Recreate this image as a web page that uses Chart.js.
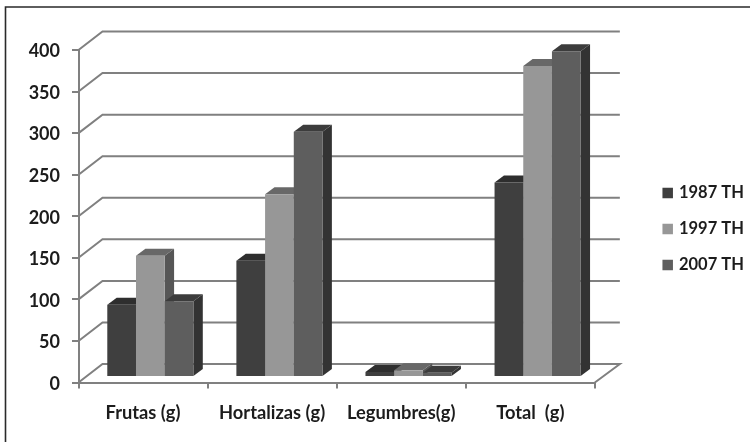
<!DOCTYPE html>
<html>
<head>
<meta charset="utf-8">
<script src="https://cdn.jsdelivr.net/npm/chart.js@4"></script>
<style>
  html, body { margin: 0; padding: 0; background: #fff; }
  #wrap { width: 750px; height: 442px; position: relative; overflow: hidden; }
  canvas { filter: blur(0.45px); }
</style>
</head>
<body>
<div id="wrap"><canvas id="chart" width="750" height="442"></canvas></div>
<script>
const categories = ['Frutas (g)', 'Hortalizas (g)', 'Legumbres(g)', 'Total  (g)']
const yTicks = [0, 50, 100, 150, 200, 250, 300, 350, 400]
const values1987 = [87, 140, 6, 234]
const values1997 = [146, 220, 8, 374]
const values2007 = [91, 295, 5, 392]

const axisGrey = '#808080'
const textColor = '#1c1c1c'
const wallDx = 24, wallDy = -18.5      //back wall offset
const barDx = 7.3, barDy = -5.5        //bars stand in the middle of the floor
const depthDx = 9.4, depthDy = -7      //depth of one bar

function drawBarFaces(ctx, ds, meta) {
  meta.data.forEach(bar => {
    const l = bar.x - bar.width / 2, r = bar.x + bar.width / 2
    ctx.fillStyle = ds.sideColor
    ctx.beginPath()
    ctx.moveTo(r, bar.y)
    ctx.lineTo(r + depthDx, bar.y + depthDy)
    ctx.lineTo(r + depthDx, bar.base + depthDy)
    ctx.lineTo(r, bar.base)
    ctx.fill()
    ctx.fillStyle = ds.topColor
    ctx.beginPath()
    ctx.moveTo(l, bar.y)
    ctx.lineTo(l + depthDx, bar.y + depthDy)
    ctx.lineTo(r + depthDx, bar.y + depthDy)
    ctx.lineTo(r, bar.y)
    ctx.fill()
  })
}

//-----------------3D look: walls behind, bar faces around the normal bars
const walls = {
  id: 'walls',
  afterLayout(chart) {
    //legend stands away from the plot
    const lg = chart.legend
    const w = lg.right - lg.left
    lg.left = 645.2
    lg.right = 645.2 + w
    lg.top -= 17
    lg.bottom -= 17
  },
  beforeDatasetsDraw(chart) {
    const { ctx, scales: { y }, chartArea: a } = chart
    ctx.save()
    ctx.strokeStyle = axisGrey
    ctx.lineWidth = 2
    yTicks.forEach(v => {
      const py = y.getPixelForValue(v)
      ctx.beginPath()
      ctx.moveTo(a.left, py)
      ctx.lineTo(a.left + wallDx, py + wallDy)
      ctx.lineTo(a.right + wallDx + 1, py + wallDy)
      if (v === 0) ctx.lineTo(a.right, py)
      ctx.stroke()
    })
    ctx.restore()
    //first series goes first so the next one covers its side face
    ctx.save()
    ctx.translate(barDx, barDy)
    chart.data.datasets.forEach((ds, i) => {
      const meta = chart.getDatasetMeta(i)
      drawBarFaces(ctx, ds, meta)
      meta.controller.draw()
    })
    ctx.restore()
  },
  beforeDatasetDraw() {
    return false
  },
  afterDraw(chart) {
    //picture frame, only top and left are there
    const { ctx } = chart
    ctx.save()
    ctx.strokeStyle = '#2a2a2a'
    ctx.lineWidth = 1.6
    ctx.beginPath()
    ctx.moveTo(5.5, 442)
    ctx.lineTo(5.5, 7)
    ctx.lineTo(750, 7)
    ctx.stroke()
    ctx.restore()
  }
}

new Chart(document.getElementById('chart').getContext('2d'), {
  type: 'bar',
  plugins: [walls],
  data: {
    labels: categories,
    datasets: [
      { label: '1987 TH', data: values1987, backgroundColor: '#3f3f3f', sideColor: '#2f2f2f', topColor: '#2e2e2e' },
      { label: '1997 TH', data: values1997, backgroundColor: '#979797', sideColor: '#565656', topColor: '#686868' },
      { label: '2007 TH', data: values2007, backgroundColor: '#5e5e5e', sideColor: '#333333', topColor: '#3c3c3c' }
    ]
  },
  options: {
    responsive: false,
    animation: false,
    events: [],
    barPercentage: 1,
    categoryPercentage: 0.667,
    layout: { padding: { top: 50, left: 0, right: 46.5, bottom: 0 } },
    plugins: {
      tooltip: { enabled: false },
      legend: {
        position: 'right',
        labels: {
          boxWidth: 6,
          boxHeight: 6,
          padding: 19.5,
          color: textColor,
          font: { family: 'Lato', size: 16.5, weight: 'bold' },
          //thick outline keeps the text close to the square
          generateLabels(chart) {
            return chart.data.datasets.map((d, i) => ({
              text: d.label, datasetIndex: i, fontColor: textColor,
              fillStyle: d.backgroundColor, strokeStyle: d.backgroundColor, lineWidth: 4.5
            }))
          }
        }
      }
    },
    scales: {
      x: {
        afterFit(scale) { scale.height = 59.5 },
        border: { color: axisGrey, width: 2 },
        grid: { drawOnChartArea: false, color: axisGrey, lineWidth: 2, tickLength: 6, offset: true },
        ticks: { color: textColor, padding: 14, maxRotation: 0, font: { family: 'Lato', size: 18.3, weight: 'bold' } }
      },
      y: {
        min: 0,
        max: 400,
        afterFit(scale) { scale.width = 78.5 },
        border: { color: axisGrey, width: 2 },
        grid: { drawOnChartArea: false, color: axisGrey, lineWidth: 2, tickLength: 6.5 },
        ticks: { stepSize: 50, color: textColor, padding: 12, labelOffset: 1.5, font: { family: 'Lato', size: 18, weight: 'bold' } }
      }
    }
  }
})
</script>
</body>
</html>
